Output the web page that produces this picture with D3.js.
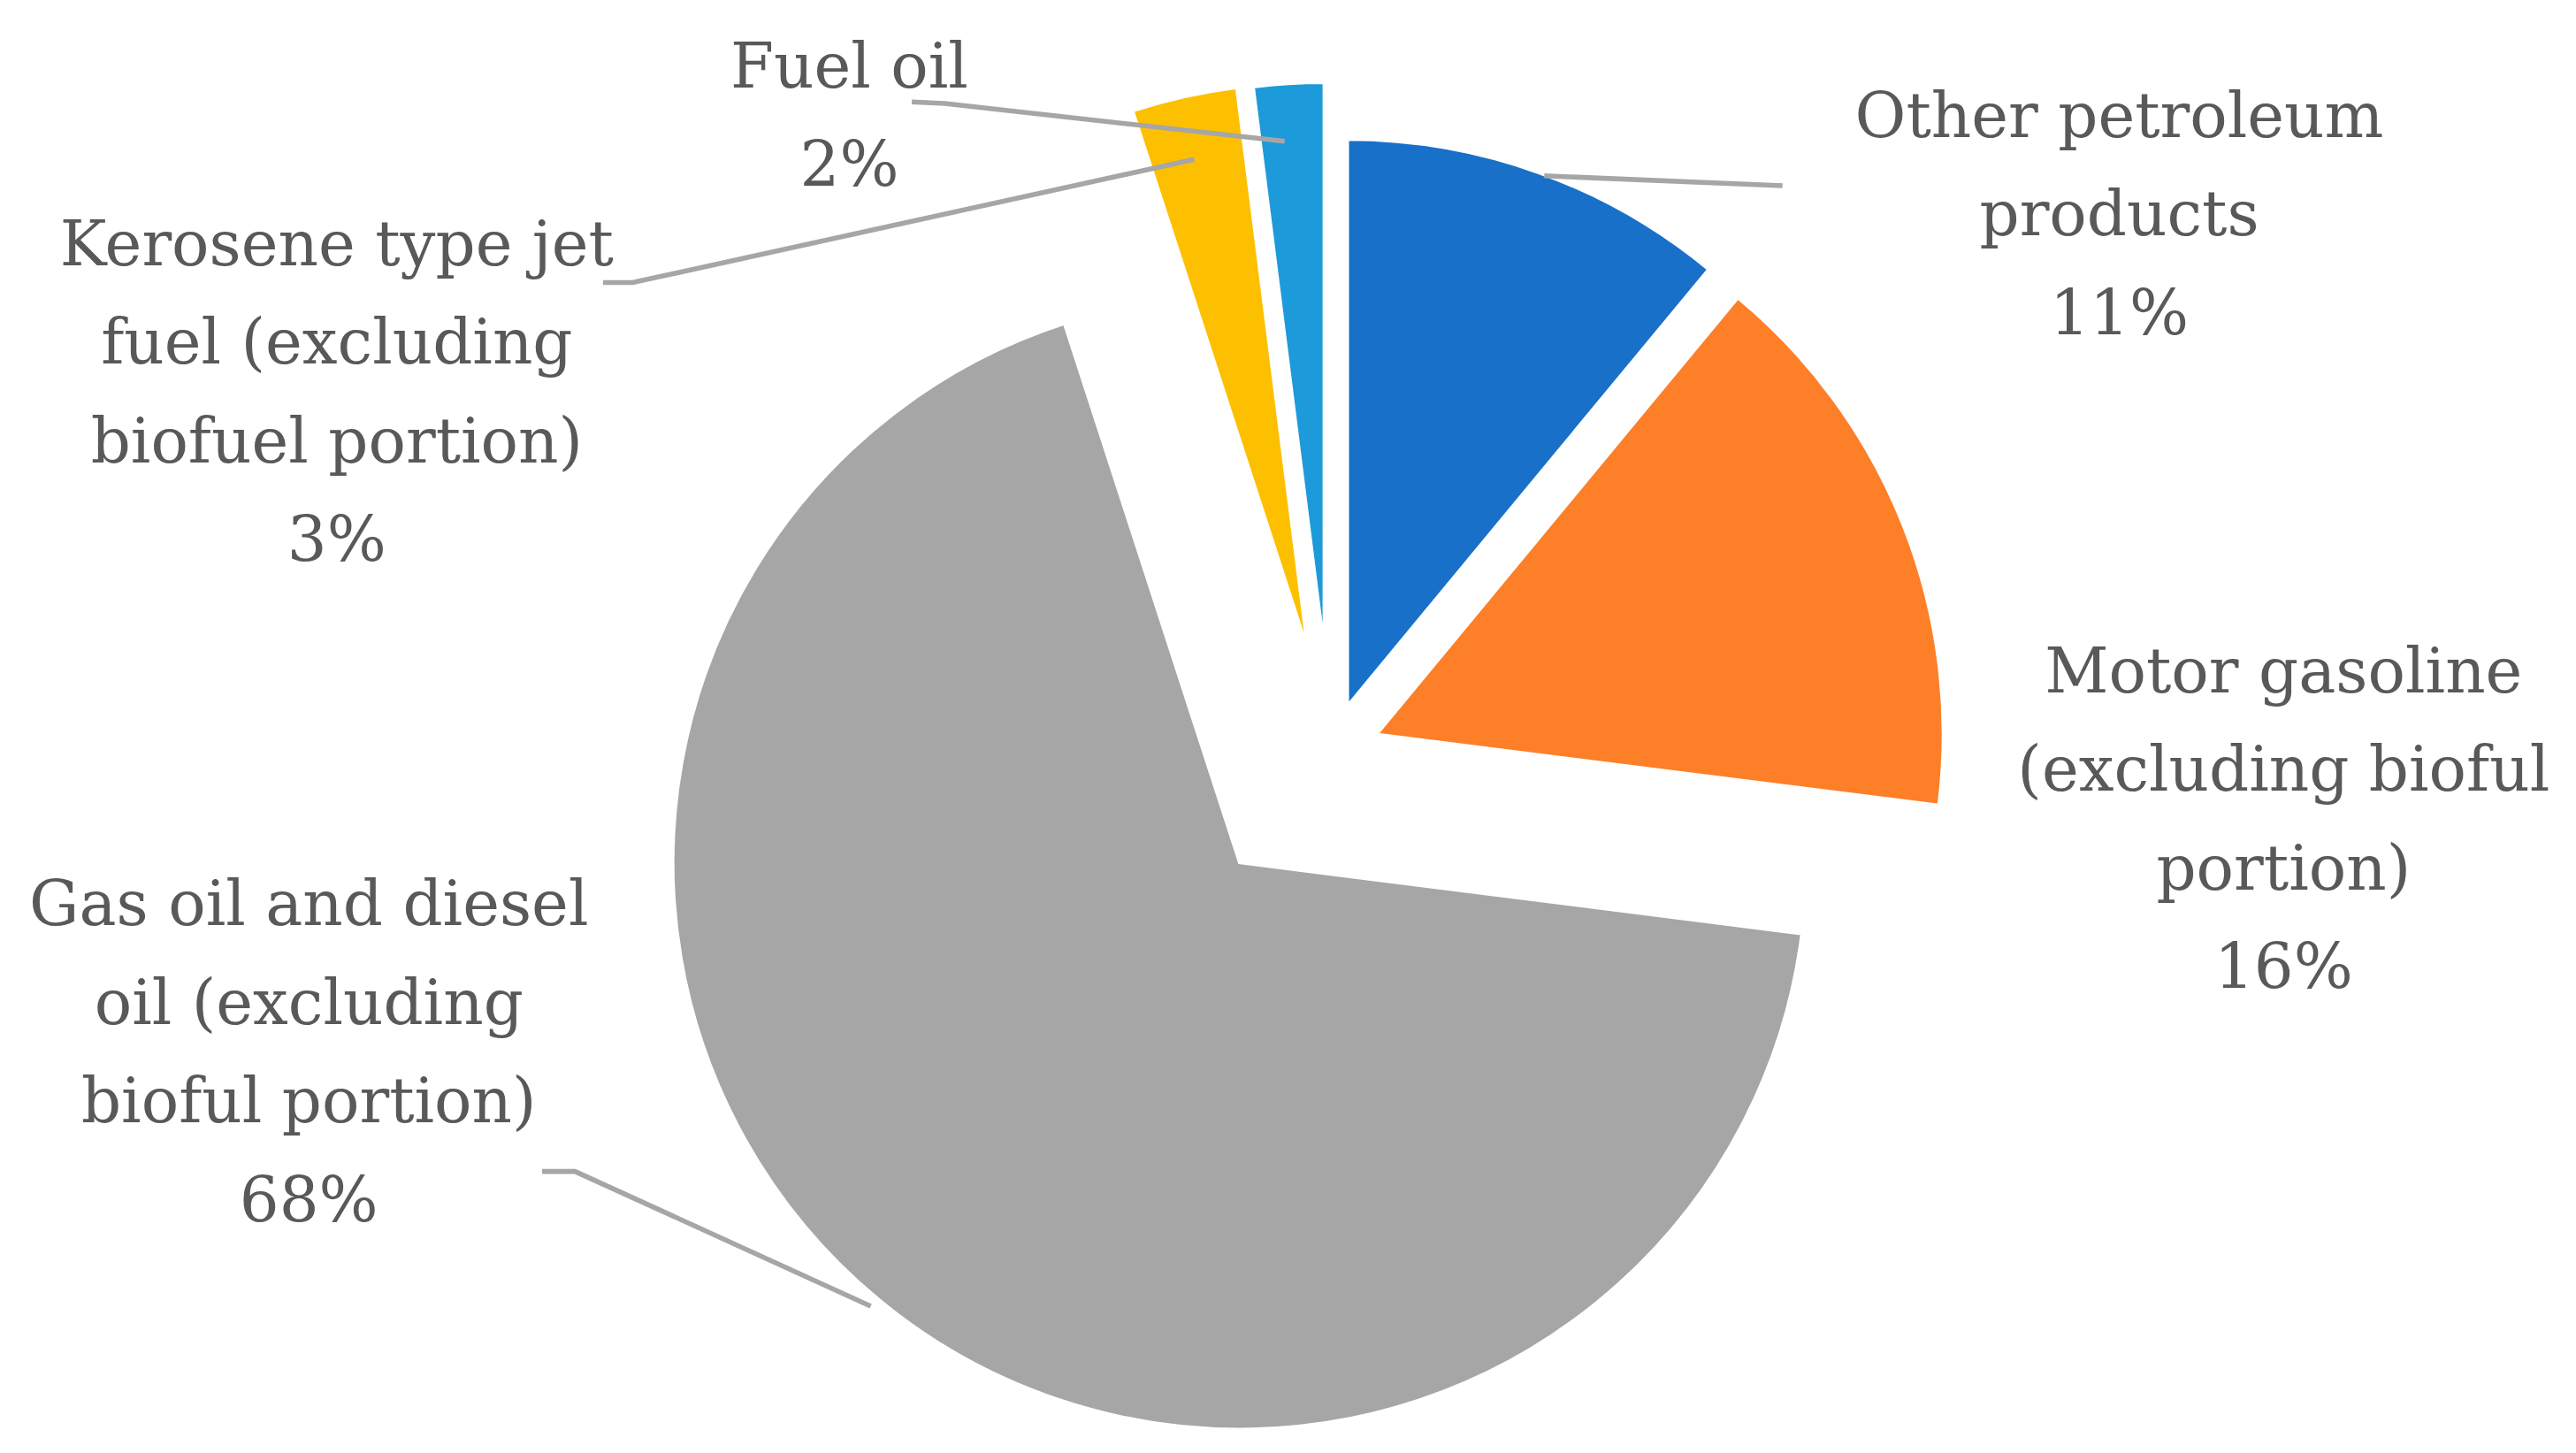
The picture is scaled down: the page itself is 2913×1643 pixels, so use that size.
<!DOCTYPE html>
<html>
<head>
<meta charset="utf-8">
<script src="https://cdn.jsdelivr.net/npm/d3@7"></script>
<style>
  body { margin: 0; background: white; }
</style>
</head>
<body>
<div id="chart"></div>
<script>
const categories = ["Other petroleum products", "Motor gasoline (excluding bioful portion)",
  "Gas oil and diesel oil (excluding bioful portion)", "Kerosene type jet fuel (excluding biofuel portion)", "Fuel oil"];
const values = [11, 16, 68, 3, 2];
const percentLabels = ["11%", "16%", "68%", "3%", "2%"];
const colors = ["#1870c8", "#fd7f28", "#a6a6a6", "#fdc000", "#1d9ad9"];

// layout in 1568-wide design units, scaled up to the window
const k = 2913 / 1568;
const center = [810, 458];
const radius = 345;
const explode = [30, 30, 87, 64, 63];
const labelLines = [
  ["Other petroleum", "products", "11%"],
  ["Motor gasoline", "(excluding bioful", "portion)", "16%"],
  ["Gas oil and diesel", "oil (excluding", "bioful portion)", "68%"],
  ["Kerosene type jet", "fuel (excluding", "biofuel portion)", "3%"],
  ["Fuel oil", "2%"]
];
const labelPos = [[1290, 70], [1390, 408], [188, 550], [205, 148], [517, 40]];
const leaders = [
  [[940, 107], [1085, 113]],
  [],
  [[330, 713], [350, 713], [530, 795]],
  [[367, 172], [385, 172], [727, 97]],
  [[555, 62], [575, 63], [782, 86]]
];

const svg = d3.select("#chart").append("svg")
  .attr("width", 2913).attr("height", 1643);
const g = svg.append("g").attr("transform", `scale(${k})`);

const pie = d3.pie().sort(null).value(d => d);
const arc = d3.arc().innerRadius(0).outerRadius(radius);
const arcs = pie(values);

g.selectAll("path.slice")
  .data(arcs)
  .enter()
  .append("path")
  .attr("class", "slice")
  .attr("d", arc)
  .attr("fill", (d, i) => colors[i])
  .attr("stroke", "white")
  .attr("stroke-width", 2)
  .attr("transform", (d, i) => {
    const a = (d.startAngle + d.endAngle) / 2;
    const x = center[0] + explode[i] * Math.sin(a);
    const y = center[1] - explode[i] * Math.cos(a);
    return `translate(${x},${y})`;
  });

g.selectAll("polyline")
  .data(leaders.filter(l => l.length))
  .enter()
  .append("polyline")
  .attr("points", d => d.map(p => p.join(",")).join(" "))
  .attr("fill", "none")
  .attr("stroke", "#a6a6a6")
  .attr("stroke-width", 3);

const labels = g.selectAll("text.label")
  .data(labelLines)
  .enter()
  .append("text")
  .attr("class", "label")
  .attr("text-anchor", "middle")
  .attr("fill", "#595959")
  .style("font-family", "'Palatino Linotype', 'Book Antiqua', Palatino, 'DejaVu Serif', serif")
  .style("font-size", "38px");

labels.selectAll("tspan")
  .data((d, i) => d.map((t, j) => ({ t, x: labelPos[i][0], y: labelPos[i][1] + j * 60 })))
  .enter()
  .append("tspan")
  .attr("x", d => d.x)
  .attr("y", d => d.y)
  .attr("dy", "0.35em")
  .text(d => d.t);
</script>
</body>
</html>
